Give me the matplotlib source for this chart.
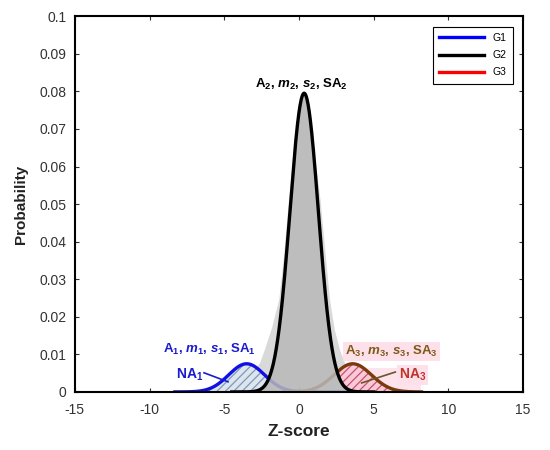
import numpy as np
import matplotlib.pyplot as plt
from matplotlib.patches import Rectangle

plt.rcParams['font.family'] = ['Liberation Sans', 'DejaVu Sans']
plt.rcParams['mathtext.fontset'] = 'custom'
plt.rcParams['mathtext.rm'] = 'Liberation Sans:bold'
plt.rcParams['mathtext.bf'] = 'Liberation Sans:bold'
plt.rcParams['mathtext.it'] = 'Liberation Sans:bold:italic'
plt.rcParams['hatch.linewidth'] = 0.9

# Gaussian components: amplitude, mean, sigma
comp_names = ['G1', 'G2', 'G3']
comp_amp = [0.0075, 0.0795, 0.0075]
comp_mean = [-3.5, 0.35, 3.6]
comp_sigma = [1.2, 0.95, 1.25]
comp_range = [(-8.3, 3.6), (-4.5, 5.0), (-1.0, 8.2)]

# empirical distribution outline (light gray area)
emp_x = [-4.6, -4.0, -3.6, -3.1, -2.6, -2.28, -1.8, -1.32, -1.0, -0.67, -0.35, 0.0,
         0.33, 0.65, 1.0, 1.45, 1.8, 2.08, 2.4, 2.75, 3.1, 3.4, 3.9, 4.6, 5.4]
emp_y = [0.0, 0.0008, 0.002, 0.005, 0.0077, 0.0112, 0.017, 0.0245, 0.036, 0.051, 0.064, 0.0745,
         0.0795, 0.075, 0.065, 0.051, 0.036, 0.0245, 0.0165, 0.0112, 0.0075, 0.005, 0.0025, 0.0008, 0.0]

xticks = [-15, -10, -5, 0, 5, 10, 15]
yticks = [0, 0.01, 0.02, 0.03, 0.04, 0.05, 0.06, 0.07, 0.08, 0.09, 0.1]
ytick_labels = ['0', '0.01', '0.02', '0.03', '0.04', '0.05', '0.06', '0.07', '0.08', '0.09', '0.1']


def gauss(x, a, m, s):
    return a * np.exp(-(x - m) ** 2 / (2 * s ** 2))


fig = plt.figure(figsize=(5.5, 4.5), dpi=100)
ax = fig.add_axes([0.136, 0.129, 0.815, 0.835])

curves = []
for a, m, s, (lo, hi) in zip(comp_amp, comp_mean, comp_sigma, comp_range):
    xx = np.linspace(lo, hi, 400)
    curves.append((xx, gauss(xx, a, m, s)))

# pink background around G3
ax.add_patch(Rectangle((1.8, 0), 6.4, 0.0065, color='#fde4ec', lw=0, zorder=0.5))

# light gray empirical distribution
ax.fill(emp_x, emp_y, color='#d9d9d9', lw=0, zorder=1)

# G1 and G3 curves under the G2 fill
ax.plot(*curves[0], color='#1010e6', lw=2.4, zorder=2)
ax.plot(*curves[2], color='#7a3a0c', lw=2.4, zorder=2)

# non-overlapping hatched areas
xg = np.linspace(-8.3, 8.2, 800)
g1 = gauss(xg, comp_amp[0], comp_mean[0], comp_sigma[0])
g2 = gauss(xg, comp_amp[1], comp_mean[1], comp_sigma[1])
g3 = gauss(xg, comp_amp[2], comp_mean[2], comp_sigma[2])
ax.fill_between(xg, g2, g1, where=(g1 > g2) & (xg < 0), facecolor='#dde5ee',
                edgecolor='#7f98b4', hatch='////', lw=0, zorder=1.8)
ax.fill_between(xg, g2, g3, where=(g3 > g2) & (xg > 0), facecolor='#f9c9d8',
                edgecolor='#c8506e', hatch='////', lw=0, zorder=1.8)

# G2 fill and curve
ax.fill_between(*curves[1], color='#b9b9b9', alpha=0.85, lw=0, zorder=3)
ax.plot(*curves[1], color='black', lw=2.4, zorder=4)

# annotations
ax.text(0.2, 0.0818, r'$\mathbf{A}_\mathbf{2}$, $m_\mathbf{2}$, $s_\mathbf{2}$, $\mathbf{SA}_\mathbf{2}$',
        ha='center', va='center', fontsize=9.5, fontweight='bold', color='black', zorder=6)
ax.text(-6.0, 0.0112, r'$\mathbf{A}_\mathbf{1}$, $m_\mathbf{1}$, $s_\mathbf{1}$, $\mathbf{SA}_\mathbf{1}$',
        ha='center', va='center', fontsize=9.5, fontweight='bold', color='#1a1ad0', zorder=6)
ax.text(-7.3, 0.0045, r'NA$_\mathbf{1}$', ha='center', va='center', fontsize=10,
        fontweight='bold', color='#1a1ad0', zorder=6)
ax.plot([-6.35, -4.75], [0.0051, 0.0027], color='#1a1ad0', lw=1.2, zorder=6)
ax.text(6.2, 0.0107, r'$\mathbf{A}_\mathbf{3}$, $m_\mathbf{3}$, $s_\mathbf{3}$, $\mathbf{SA}_\mathbf{3}$',
        ha='center', va='center', fontsize=9.5, fontweight='bold', color='#7d5a16', zorder=6,
        bbox=dict(facecolor='#fde0ea', edgecolor='none', pad=1.5))
ax.text(7.6, 0.0045, r'NA$_\mathbf{3}$', ha='center', va='center', fontsize=10,
        fontweight='bold', color='#c0342a', zorder=6,
        bbox=dict(facecolor='#fde0ea', edgecolor='none', pad=1.5))
ax.plot([6.45, 4.2], [0.0053, 0.0024], color='#6e5526', lw=1.2, zorder=6)

# legend handles
for name, col in zip(comp_names, ['#0000ff', 'black', '#ff0000']):
    ax.plot([], [], color=col, lw=2.4, label=name)
leg = ax.legend(loc='upper right', fontsize=7.5, handlelength=4.3, labelspacing=0.7,
                fancybox=False, edgecolor='black', framealpha=1, borderaxespad=1.0,
                borderpad=0.6)
leg.get_frame().set_linewidth(0.8)

ax.set_xlim(-15, 15)
ax.set_ylim(0, 0.1)
ax.set_xticks(xticks)
ax.set_xticklabels([str(t) for t in xticks])
ax.set_yticks(yticks)
ax.set_yticklabels(ytick_labels)
ax.tick_params(direction='in', length=3, width=0.8, top=True, right=True,
               labelsize=10, colors='#333333', pad=6)
ax.tick_params(axis='x', pad=8)
for sp in ax.spines.values():
    sp.set_linewidth(1.5)
    sp.set_color('black')
    sp.set_zorder(5)
ax.set_xlabel('Z-score', fontsize=12.5, fontweight='bold', color='#222222', labelpad=5)
ax.set_ylabel('Probability', fontsize=11, fontweight='bold', color='#222222', labelpad=8)

fig.savefig('out.png', dpi=100)
